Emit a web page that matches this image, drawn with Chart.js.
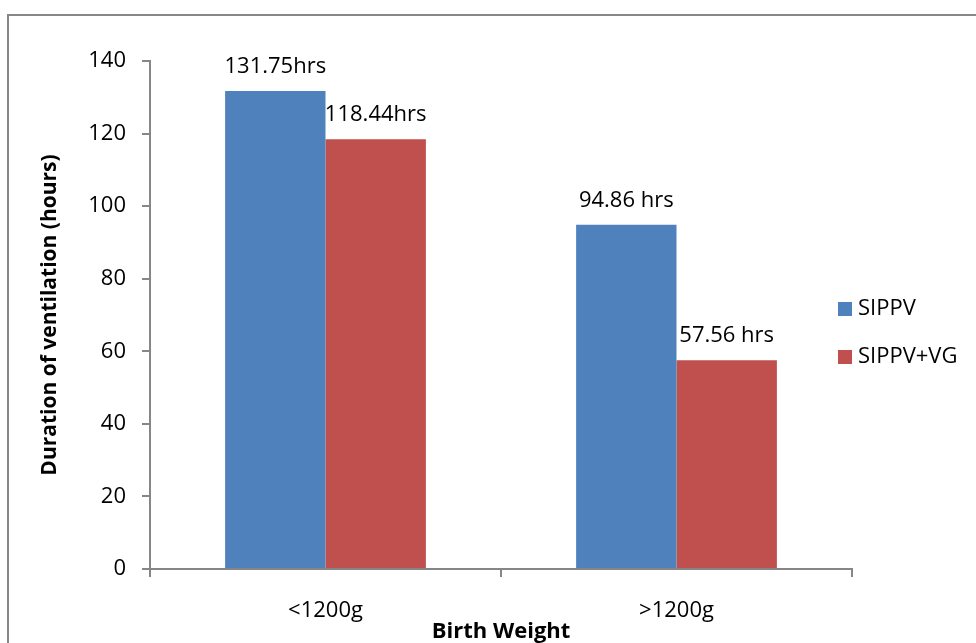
<!DOCTYPE html>
<html>
<head>
<meta charset="utf-8">
<script src="https://cdn.jsdelivr.net/npm/chart.js@4"></script>
<style>
  html, body { margin: 0; padding: 0; background: #fff; overflow: hidden; }
  #wrap { position: absolute; left: 0; top: 0; width: 976px; height: 643px; }
  #frame { position: absolute; left: 7px; top: 14px; width: 1100px; height: 800px; border: 2px solid #878787; box-sizing: border-box; }
</style>
</head>
<body>
<div id="frame"></div>
<div id="wrap"><canvas id="c"></canvas></div>
<script>
const categories = ['<1200g', '>1200g'];
const seriesNames = ['SIPPV', 'SIPPV+VG'];
const sippv = [131.75, 94.86];
const sippvVg = [118.44, 57.56];
const sippvLabels = ['131.75hrs', '94.86 hrs'];
const sippvVgLabels = ['118.44hrs', '57.56 hrs'];
const yTicks = [0, 20, 40, 60, 80, 100, 120, 140];

const FONT = "'Open Sans', 'Liberation Sans', sans-serif";
const AXIS = '#868686';

const valueLabels = {
  id: 'valueLabels',
  afterDatasetsDraw(chart) {
    const ctx = chart.ctx;
    ctx.save();
    ctx.font = '22px ' + FONT;
    ctx.fillStyle = '#000';
    ctx.textAlign = 'center';
    ctx.textBaseline = 'alphabetic';
    chart.data.datasets.forEach((ds, di) => {
      chart.getDatasetMeta(di).data.forEach((bar, i) => {
        ctx.fillText(ds.valueText[i], bar.x, bar.y - 18);
      });
    });
    ctx.restore();
  }
};

const sideLegend = {
  id: 'sideLegend',
  afterDraw(chart) {
    const ctx = chart.ctx;
    ctx.save();
    ctx.font = '22px ' + FONT;
    ctx.textBaseline = 'middle';
    ctx.textAlign = 'left';
    chart.data.datasets.forEach((ds, i) => {
      const cy = 309 + i * 48;
      ctx.fillStyle = ds.backgroundColor;
      ctx.fillRect(838, cy - 7, 14, 14);
      ctx.fillStyle = '#000';
      ctx.fillText(ds.label, 858, cy);
    });
    ctx.restore();
  }
};

new Chart(document.getElementById('c'), {
  type: 'bar',
  data: {
    labels: categories,
    datasets: [
      { label: seriesNames[0], data: sippv, valueText: sippvLabels, backgroundColor: '#4F81BD', borderWidth: 0 },
      { label: seriesNames[1], data: sippvVg, valueText: sippvVgLabels, backgroundColor: '#C0504D', borderWidth: 0 }
    ]
  },
  options: {
    responsive: true,
    maintainAspectRatio: false,
    animation: false,
    devicePixelRatio: 1,
    layout: { padding: { top: 61, right: 124, bottom: 0, left: 0 } },
    datasets: { bar: { categoryPercentage: 0.572, barPercentage: 1.0 } },
    plugins: { legend: { display: false }, tooltip: { enabled: false } },
    scales: {
      x: {
        grid: { display: true, drawOnChartArea: false, drawTicks: true, tickLength: 8, color: AXIS, lineWidth: 2, offset: true },
        border: { display: true, color: AXIS, width: 2 },
        ticks: { color: '#000', font: { family: FONT, size: 22 }, padding: 21, maxRotation: 0 },
        title: { display: true, text: 'Birth Weight', color: '#000', font: { family: FONT, size: 22, weight: 'bold' }, padding: { top: 0, bottom: -2 } },
        afterFit(s) { s.height = 74; }
      },
      y: {
        min: 0, max: 140,
        afterBuildTicks(s) { s.ticks = yTicks.map(v => ({ value: v })); },
        grid: { display: true, drawOnChartArea: false, drawTicks: true, tickLength: 8, color: AXIS, lineWidth: 2 },
        border: { display: true, color: AXIS, width: 2 },
        ticks: { color: '#000', font: { family: FONT, size: 22 }, padding: 16 },
        title: { display: true, text: 'Duration of ventilation (hours)', color: '#000', font: { family: FONT, size: 21, weight: 'bold' }, padding: { top: 37, bottom: 0 } },
        afterFit(s) { s.width = 150; }
      }
    }
  },
  plugins: [valueLabels, sideLegend]
});
</script>
</body>
</html>
